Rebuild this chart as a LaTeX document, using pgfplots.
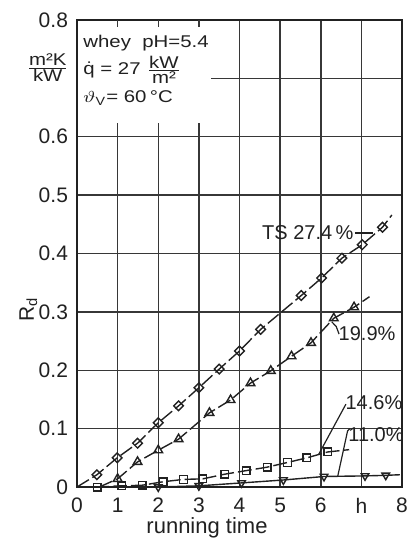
\documentclass[border=0pt]{standalone}
\usepackage{pgfplots}
\pgfplotsset{compat=1.18}
\usepackage{graphicx}
\usepackage{fontspec}
\setmainfont{Liberation Sans}
\definecolor{ink}{gray}{0.13}
\newcommand{\wide}[1]{\scalebox{1.2}[1]{#1}}
\begin{document}
\begin{tikzpicture}
\begin{axis}[
  at={(0,0)}, anchor=south west,
  scale only axis, width=162.5pt, height=233.5pt,
  xmin=0, xmax=8, ymin=0, ymax=0.8,
  xtick={0,1,2,3,4,5,6,7,8}, xticklabels={0,1,2,3,4,5,6,h,8},
  ytick={0,0.1,0.2,0.3,0.4,0.5,0.6,0.7,0.8},
  yticklabels={0,0.1,0.2,0.3,0.4,0.5,0.6,,0.8},
  grid=major, major grid style={draw=ink!90, line width=0.75pt},
  axis line style={draw=ink, line width=1pt},
  major tick length=0pt,
  /pgf/number format/assume math mode=true,
  tick label style={font=\fontsize{10.5}{12}\selectfont, text=ink},
  xticklabel style={yshift=-2pt},
  yticklabel style={xshift=-1pt},
  clip=false,
  xlabel={running time},
  xlabel style={at={(axis description cs:0.40,-0.088)}, anchor=center, font=\fontsize{11}{13}\selectfont, text=ink},
  ylabel={R\textsubscript{d}},
  ylabel style={at={(axis description cs:-0.15,0.38)}, anchor=center, font=\fontsize{10.5}{12}\selectfont, text=ink},
  every axis plot/.append style={ink, line width=0.7pt},
]
% TS 27.4 %
\addplot[dash pattern=on 7pt off 2pt, mark=square, mark size=1.7pt,
  mark options={solid, fill=white, rotate=45}, mark indices={2,...,15}]
  coordinates {(0,0) (0.49,0.021) (0.99,0.050) (1.49,0.075) (2.0,0.110) (2.5,0.139)
  (3.0,0.170) (3.5,0.202) (4.0,0.233) (4.52,0.270) (5.52,0.328) (6.02,0.358)
  (6.52,0.392) (7.02,0.415) (7.52,0.445) (7.75,0.466)};
% 19.9 %
\addplot[dash pattern=on 7pt off 2pt, mark=triangle, mark size=2.5pt,
  mark options={solid, fill=white}, mark indices={2,...,13}]
  coordinates {(0.55,0) (1.0,0.014) (1.49,0.043) (2.0,0.063) (2.5,0.082) (3.26,0.127)
  (3.78,0.149) (4.27,0.178) (4.77,0.199) (5.28,0.224) (5.76,0.247) (6.32,0.289)
  (6.82,0.308) (7.2,0.326)};
% 14.6 %
\addplot[dash pattern=on 7pt off 2pt, mark=square, mark size=1.9pt,
  mark options={solid, fill=white}, mark indices={2,...,13}]
  coordinates {(0,0) (0.5,0.0) (1.1,0.002) (1.6,0.003) (2.12,0.009) (2.62,0.013)
  (3.1,0.014) (3.64,0.022) (4.16,0.028) (4.68,0.034) (5.18,0.042) (5.66,0.050)
  (6.17,0.060) (6.7,0.064)};
% 11.0 %
\addplot[mark=triangle, mark size=2.2pt,
  mark options={solid, fill=white, rotate=180}, mark indices={2,...,8}]
  coordinates {(0,0) (2.0,0.0) (3.0,0.002) (4.05,0.007) (5.08,0.012) (6.08,0.018)
  (7.09,0.019) (7.6,0.020) (7.95,0.021)};

% text box area
\fill[white] (axis cs:0.03,0.623) rectangle (axis cs:3.3,0.791);
\draw[ink!90, line width=0.75pt] (axis cs:1,0.8) -- (axis cs:1,0.788);
\draw[ink!90, line width=0.75pt] (axis cs:2,0.8) -- (axis cs:2,0.788);
\draw[ink!90, line width=0.75pt] (axis cs:3,0.8) -- (axis cs:3,0.788);
\node[anchor=base west, inner sep=0pt, text=ink, font=\fontsize{8.5}{10}\selectfont]
  at (axis cs:0.148,0.7537) {\wide{whey\ \ pH=5.4}};
\node[anchor=base west, inner sep=0pt, text=ink, font=\fontsize{8.5}{10}\selectfont]
  at (axis cs:0.148,0.706) {\wide{$\dot{\mbox{q}}$ = 27 $\frac{\mbox{kW}}{\mbox{m²}}$}};
\node[anchor=base west, inner sep=0pt, text=ink, font=\fontsize{8.5}{10}\selectfont]
  at (axis cs:0.148,0.658) {\wide{$\vartheta$\textsubscript{V}= 60\,°C}};
% unit
\node[anchor=center, inner sep=0pt, text=ink, font=\fontsize{8.5}{10}\selectfont]
  at (axis cs:-0.72,0.718) {\wide{$\frac{\mbox{m²K}}{\mbox{kW}}$}};

% series labels
\node[anchor=center, text=ink, font=\fontsize{10}{12}\selectfont] at (axis cs:5.68,0.435) {TS 27.4\,\%};
\draw[ink, line width=0.6pt] (axis cs:6.84,0.435) -- (axis cs:7.28,0.435);
\node[anchor=center, text=ink, font=\fontsize{10}{12}\selectfont] at (axis cs:7.14,0.262) {19.9\%};
\draw[ink, line width=0.6pt] (axis cs:6.45,0.262) -- (axis cs:6.38,0.275) -- (axis cs:6.27,0.283);
\node[anchor=center, text=ink, font=\fontsize{10}{12}\selectfont] at (axis cs:7.31,0.144) {14.6\%};
\draw[ink, line width=0.6pt] (axis cs:6.62,0.142) -- (axis cs:5.95,0.056);
\node[anchor=center, text=ink, font=\fontsize{10}{12}\selectfont] at (axis cs:7.36,0.089) {11.0\%};
\draw[ink, line width=0.6pt] (axis cs:6.72,0.100) -- (axis cs:6.66,0.096) -- (axis cs:6.42,0.019);
\end{axis}
\pgfresetboundingbox
\path[use as bounding box] (-38.5pt,-26pt) rectangle (166.5pt,243.5pt);
\end{tikzpicture}
\end{document}
